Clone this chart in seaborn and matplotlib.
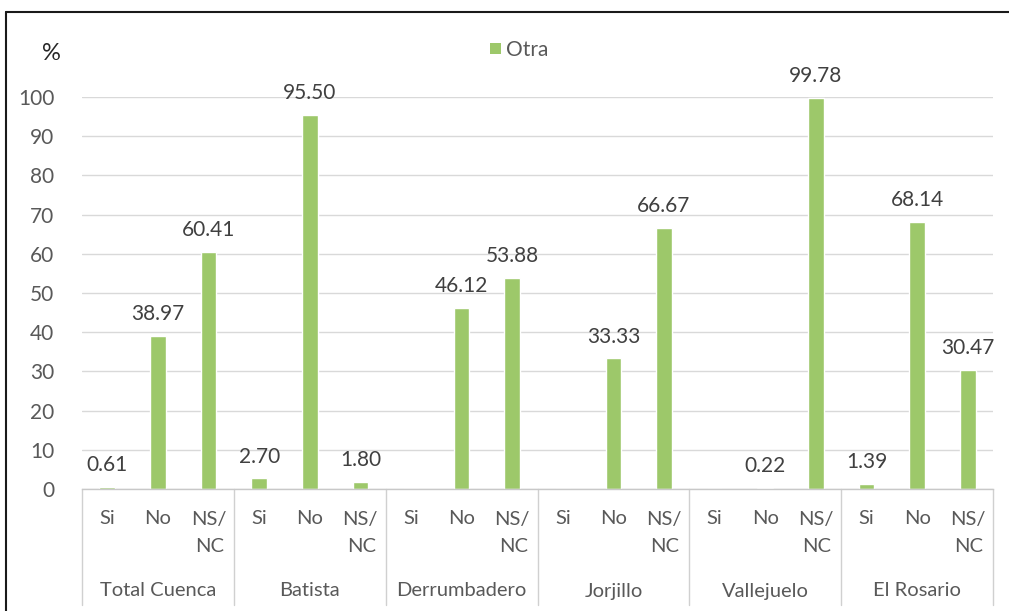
import matplotlib
matplotlib.use("Agg")
import matplotlib.pyplot as plt
import matplotlib.transforms as mtrans
from matplotlib.patches import Rectangle
from matplotlib.lines import Line2D
import seaborn as sns
import pandas as pd

# ---- data ----
groups = ["Total Cuenca", "Batista", "Derrumbadero", "Jorjillo", "Vallejuelo", "El Rosario"]
answers = ["Si", "No", "NS/NC"]
si_vals = [0.61, 2.70, 0.0, 0.0, 0.0, 1.39]
no_vals = [38.97, 95.50, 46.12, 33.33, 0.22, 68.14]
nsnc_vals = [60.41, 1.80, 53.88, 66.67, 99.78, 30.47]
series_name = "Otra"
yticks = list(range(0, 101, 10))

rows = []
for g, a, b, c in zip(groups, si_vals, no_vals, nsnc_vals):
    for ans, v in zip(answers, [a, b, c]):
        rows.append({"cat": f"{g}|{ans}", "group": g, "answer": ans, "value": v, "serie": series_name})
df = pd.DataFrame(rows)

sns.set_theme(style="white")
plt.rcParams["font.family"] = ["Lato", "DejaVu Sans"]

W, H, DPI = 1009, 611, 100
fig = plt.figure(figsize=(W / DPI, H / DPI), dpi=DPI)
fig.patch.set_facecolor("white")

# axes placement in pixels
x0, x1, ytop, ybot = 82, 993, 97, 489
ax = fig.add_axes([x0 / W, 1 - ybot / H, (x1 - x0) / W, (ybot - ytop) / H])

green = "#9DC86A"
sns.barplot(data=df, x="cat", y="value", hue="serie", palette=[green],
            width=0.31, ax=ax, legend=False, saturation=1)

ax.set_xlim(-0.5, len(df) - 0.5)
ax.set_ylim(0, 100)
ax.set_yticks(yticks)
ax.set_yticklabels([str(t) for t in yticks], fontsize=15, color="#595959")
ax.tick_params(axis="y", length=0, pad=20)
ax.set_xticks([])
ax.set_xlabel("")
ax.set_ylabel("")
ax.grid(axis="y", color="#D9D9D9", lw=1)
ax.set_axisbelow(True)
for s in ["top", "right", "left"]:
    ax.spines[s].set_visible(False)
ax.spines["bottom"].set_color("#C8C8C8")
ax.spines["bottom"].set_linewidth(1)

# data labels
for i, v in enumerate(df["value"]):
    if v > 0:
        ax.annotate(f"{v:.2f}", (i, v), xytext=(0, 8.5), textcoords="offset points",
                    ha="center", va="bottom", fontsize=15, color="#404040")

# category axis labels (two levels)
bt = mtrans.blended_transform_factory(ax.transData, fig.transFigure)
def fy(py):
    return 1 - py / H

for i, (ans) in enumerate(df["answer"]):
    if ans == "NS/NC":
        ax.text(i, fy(519), "NS/", transform=bt, ha="center", va="center",
                fontsize=14.5, color="#595959")
        ax.text(i + 0.02, fy(547), "NC", transform=bt, ha="center", va="center",
                fontsize=14.5, color="#595959")
    else:
        ax.text(i, fy(519), ans, transform=bt, ha="center", va="center",
                fontsize=14.5, color="#595959")

for gi, g in enumerate(groups):
    ax.text(gi * 3 + 1, fy(591), g, transform=bt, ha="center", va="center",
            fontsize=14.5, color="#595959")

for gi in range(len(groups) + 1):
    xb = gi * 3 - 0.5
    ax.add_line(Line2D([xb, xb], [fy(489), fy(605)], transform=bt, color="#D0D0D0",
                       lw=1, clip_on=False))

# "%" axis title
fig.text(51 / W, fy(54), "%", ha="center", va="center", fontsize=17, color="#262626")

# legend
fig.patches.append(Rectangle((490 / W, fy(54)), 11 / W, 11 / H, transform=fig.transFigure,
                             facecolor=green, edgecolor="none"))
fig.text(506 / W, fy(50), series_name, ha="left", va="center", fontsize=15, color="#595959")

# outer frame
fig.add_artist(Line2D([6 / W, 6 / W], [fy(12), 0], transform=fig.transFigure, color="#1a1a1a", lw=1.5))
fig.add_artist(Line2D([6 / W, 1], [fy(12), fy(12)], transform=fig.transFigure, color="#1a1a1a", lw=1.5))

fig.savefig("out.png", dpi=DPI)
